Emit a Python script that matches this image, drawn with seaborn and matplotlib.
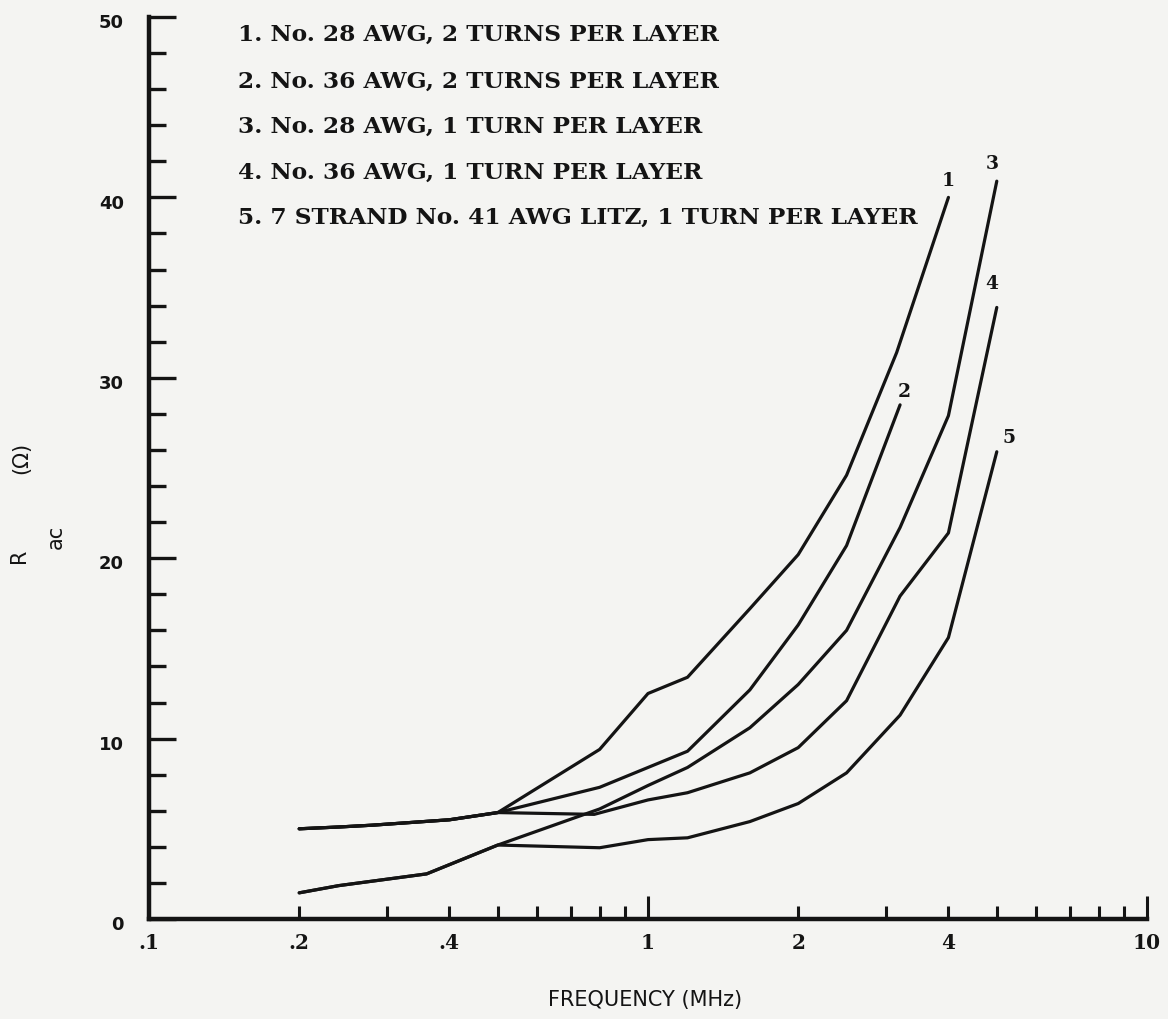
import numpy as np
import pandas as pd
import matplotlib
matplotlib.use("Agg")
import matplotlib.pyplot as plt
import matplotlib.transforms as mtransforms
import seaborn as sns
from matplotlib.ticker import NullFormatter

# ---------------- data ----------------
# shared low-frequency segments (MHz, ohm)
base_upper_f = [0.2, 0.24, 0.28, 0.4, 0.5]
base_upper_r = [5.0, 5.1, 5.2, 5.5, 5.9]
base_lower_f = [0.2, 0.24, 0.36, 0.5]
base_lower_r = [1.45, 1.85, 2.5, 4.1]

curve1_f = [0.5, 0.8, 1.0, 1.2, 1.6, 2.0, 2.5, 3.15, 4.0]
curve1_r = [5.9, 9.4, 12.5, 13.4, 17.2, 20.2, 24.6, 31.4, 40.0]
curve2_f = [0.5, 0.8, 1.0, 1.2, 1.6, 2.0, 2.5, 3.2]
curve2_r = [5.9, 7.3, 8.4, 9.3, 12.7, 16.3, 20.7, 28.5]
curve3_f = [0.5, 0.8, 1.0, 1.2, 1.6, 2.0, 2.5, 3.2, 4.0, 5.0]
curve3_r = [4.1, 6.1, 7.4, 8.4, 10.6, 13.0, 16.0, 21.7, 27.9, 40.9]
curve4_f = [0.5, 0.78, 1.0, 1.2, 1.6, 2.0, 2.5, 3.2, 4.0, 5.0]
curve4_r = [5.9, 5.8, 6.6, 7.0, 8.1, 9.5, 12.1, 17.9, 21.4, 33.9]
curve5_f = [0.5, 0.8, 1.0, 1.2, 1.6, 2.0, 2.5, 3.2, 4.0, 5.0]
curve5_r = [4.1, 3.95, 4.4, 4.5, 5.4, 6.4, 8.1, 11.3, 15.6, 25.9]

curve_names = ["1", "2", "3", "4", "5"]
legend_lines = [
    "1. No. 28 AWG, 2 TURNS PER LAYER",
    "2. No. 36 AWG, 2 TURNS PER LAYER",
    "3. No. 28 AWG, 1 TURN PER LAYER",
    "4. No. 36 AWG, 1 TURN PER LAYER",
    "5. 7 STRAND No. 41 AWG LITZ, 1 TURN PER LAYER",
]
x_ticks = [0.1, 0.2, 0.4, 1, 2, 4, 10]
x_tick_labels = [".1", ".2", ".4", "1", "2", "4", "10"]
x_minor = [0.3, 0.5, 0.6, 0.7, 0.8, 0.9, 3, 5, 6, 7, 8, 9]
y_ticks = [0, 10, 20, 30, 40, 50]
y_minor = list(range(0, 51, 2))

# ---------------- assemble long-form table ----------------
branches = [
    (base_upper_f, base_upper_r, curve1_f, curve1_r),
    (base_upper_f, base_upper_r, curve2_f, curve2_r),
    (base_lower_f, base_lower_r, curve3_f, curve3_r),
    (base_upper_f, base_upper_r, curve4_f, curve4_r),
    (base_lower_f, base_lower_r, curve5_f, curve5_r),
]
rows = []
for name, (bf, br, cf, cr) in zip(curve_names, branches):
    fs = list(bf) + list(cf[1:])
    rs = list(br) + list(cr[1:])
    for i, (f, r) in enumerate(zip(fs, rs)):
        rows.append({"curve": name, "order": i, "f": f, "R": r})
df = pd.DataFrame(rows)

# ---------------- style ----------------
sns.set_style("ticks")
plt.rcParams["font.family"] = ["DejaVu Sans"]
INK = "#141414"
BG = "#f4f4f2"

W, H = 1168, 1019
fig = plt.figure(figsize=(W / 100, H / 100), dpi=100, facecolor=BG)
x0, x10 = 149, 1147
y0, y50 = 919, 17
ax = fig.add_axes([x0 / W, 1 - y0 / H, (x10 - x0) / W, (y0 - y50) / H])
ax.set_facecolor(BG)
ax.set_xscale("log")

sns.lineplot(data=df, x="f", y="R", units="curve", estimator=None, sort=False,
             color=INK, lw=2.3, ax=ax, legend=False)

ax.set_xlim(0.1, 10)
ax.set_ylim(0, 50)
for s in ["top", "right"]:
    ax.spines[s].set_visible(False)
for s in ["left", "bottom"]:
    ax.spines[s].set_linewidth(3.2)
    ax.spines[s].set_color(INK)
    ax.spines[s].set_capstyle("projecting")

# x ticks
ax.set_xticks(x_ticks, x_tick_labels)
ax.set_xticks(x_minor, minor=True)
ax.xaxis.set_minor_formatter(NullFormatter())
ax.tick_params(axis="x", which="both", direction="in", width=2.2, color=INK,
               pad=10, labelsize=14.5, labelcolor=INK)
ax.tick_params(axis="x", which="minor", length=9.5)
ax.tick_params(axis="x", which="major", length=16.5)
major_len = {0.1: 0, 0.2: 9.5, 0.4: 9.5, 1: 16.5, 2: 9.5, 4: 9.5, 10: 16.5}
for t, v in zip(ax.xaxis.get_major_ticks(), x_ticks):
    t.tick1line.set_markersize(major_len[v])
for lbl in ax.get_xticklabels():
    lbl.set_fontfamily("DejaVu Serif")
    lbl.set_fontweight("bold")

# y ticks
ax.set_yticks(y_ticks, [str(v) for v in y_ticks])
ax.set_yticks(y_minor, minor=True)
ax.yaxis.set_minor_formatter(NullFormatter())
ax.tick_params(axis="y", which="both", direction="in", width=2.4, color=INK,
               pad=18, labelsize=13, labelcolor=INK)
ax.tick_params(axis="y", which="major", length=19.5)
ax.tick_params(axis="y", which="minor", length=12)
shift_down = mtransforms.ScaledTranslation(0, -3 / 72, fig.dpi_scale_trans)
for lbl in ax.get_yticklabels():
    lbl.set_fontweight("bold")
    lbl.set_transform(lbl.get_transform() + shift_down)

ax.set_xlabel("")
ax.set_ylabel("")

# x axis title
fig.text(645 / W, 1 - 1000 / H, "FREQUENCY (MHz)", ha="center", va="center",
         fontsize=15, color=INK)
# y axis title pieces
fig.text(19 / W, 1 - 556 / H, "R", rotation=90, ha="center", va="center",
         fontsize=15, color=INK)
fig.text(56 / W, 1 - 537 / H, "ac", rotation=90, ha="center", va="center",
         fontsize=15, color=INK)
fig.text(21 / W, 1 - 458 / H, "(Ω)", rotation=90, ha="center", va="center",
         fontsize=15, color=INK)

# legend block (typed text)
legend_y = [35, 82, 127, 173, 218]
texts = []
for line, yy in zip(legend_lines, legend_y):
    t = fig.text(238 / W, 1 - yy / H, line, ha="left", va="center",
                 fontfamily="DejaVu Serif", fontweight="bold", fontsize=14,
                 color=INK)
    texts.append(t)
fig.canvas.draw()
renderer = fig.canvas.get_renderer()
w_long = texts[-1].get_window_extent(renderer).width
scale = (918 - 238) / w_long
for t in texts:
    t.set_fontsize(14 * scale)

# curve end labels
curve_ends = [(curve1_f[-1], curve1_r[-1]), (curve2_f[-1], curve2_r[-1]),
              (curve3_f[-1], curve3_r[-1]), (curve4_f[-1], curve4_r[-1]),
              (curve5_f[-1], curve5_r[-1])]
label_offsets = [(0, 11.5), (3, 9.5), (-3, 12.2), (-3.6, 16.6), (8.6, 10)]
for name, (f, r), off in zip(curve_names, curve_ends, label_offsets):
    ax.annotate(name, (f, r), xytext=off, textcoords="offset points",
                ha="center", va="center", fontfamily="DejaVu Serif",
                fontweight="bold", fontsize=13.5, color=INK)

fig.savefig("out.png", dpi=100, facecolor=BG)
